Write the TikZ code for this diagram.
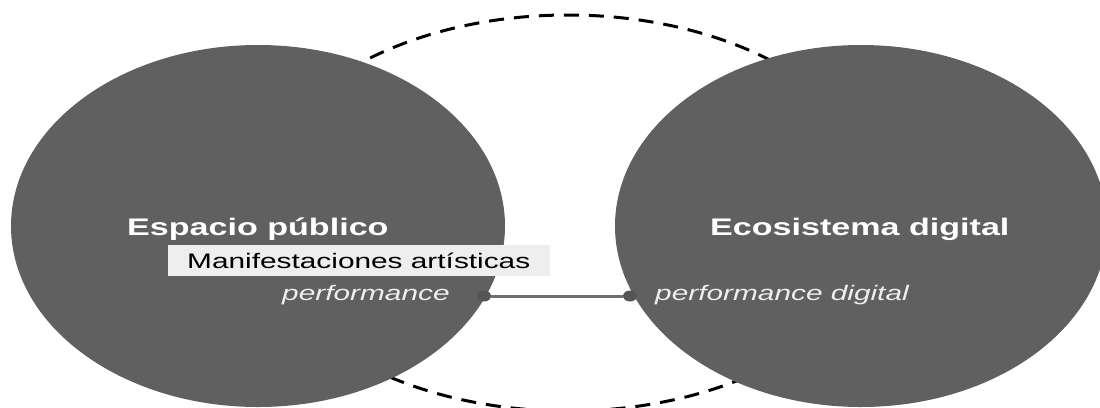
\documentclass[tikz,border=0pt]{standalone}
\usepackage{fontspec}
\setmainfont{Liberation Sans}
\usetikzlibrary{shapes.geometric}
\definecolor{blobgray}{RGB}{96,96,96}
\definecolor{boxgray}{RGB}{238,238,238}
\definecolor{dotgray}{RGB}{85,85,85}
\definecolor{linegray}{RGB}{110,110,110}
\definecolor{ltext}{RGB}{238,238,238}
\newcommand{\wide}[1]{\scalebox{1.42}[1]{#1}}
\tikzset{
  blob/.style={ellipse, fill=blobgray, draw=none, inner sep=0pt},
  ring/.style={ellipse, draw=black, line width=3pt, dash pattern=on 15pt off 10pt, inner sep=0pt, fill=none},
  title/.style={anchor=base west, inner sep=0pt, text=white, font=\fontsize{24}{28}\selectfont\bfseries},
  label/.style={anchor=base west, inner sep=0pt, text=ltext, font=\fontsize{21}{25}\selectfont\itshape},
  tagtext/.style={anchor=base west, inner sep=0pt, text=black, font=\fontsize{21}{25}\selectfont},
  tagbox/.style={anchor=north west, fill=boxgray, inner sep=0pt, minimum width=382pt, minimum height=31pt},
  dotnode/.style={ellipse, fill=dotgray, inner sep=0pt, minimum width=14pt, minimum height=11pt},
  link/.style={draw=linegray, line width=3pt}
}
\begin{document}
\begin{tikzpicture}[x=1pt,y=-1pt]
\useasboundingbox (0,0) rectangle (1100,407);
\clip (0,0) rectangle (1100,407);
\node[ring, minimum width=636pt, minimum height=396pt] (ring) at (568,213) {};
\node[blob, minimum width=494pt, minimum height=362pt] (left) at (258,226) {};
\node[blob, minimum width=492pt, minimum height=362pt] (right) at (861,226) {};
\node[title] (esp) at (127,235) {\wide{Espacio público}};
\node[title] (eco) at (710,235) {\wide{Ecosistema digital}};
\node[tagbox] (mbox) at (168,245) {};
\node[tagtext] (man) at (187,268) {\wide{Manifestaciones artísticas}};
\node[label] (perf) at (282,300) {\wide{performance}};
\node[label] (perfd) at (655,300) {\wide{performance digital}};
\node[dotnode] (pl) at (484,296) {};
\node[dotnode] (pr) at (630,296) {};
\draw[link] (pl) -- (pr);
\end{tikzpicture}
\end{document}
